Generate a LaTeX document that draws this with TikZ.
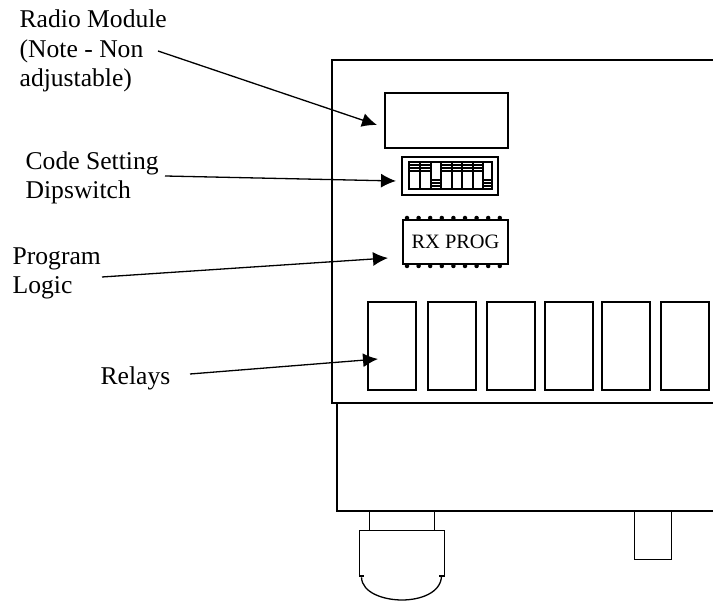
\documentclass[tikz,border=0pt]{standalone}
\usepackage{fontspec}
\setmainfont{Liberation Serif}
\usetikzlibrary{positioning,arrows.meta}

\begin{document}
\begin{tikzpicture}[
    x=1pt, y=-1pt,
    every path/.style={line width=1.3pt},
    lbl/.style={align=left, font=\fontsize{25.6}{29.6}\selectfont, inner sep=0pt},
    part/.style={rectangle, draw, fill=white, inner sep=0pt, minimum width=#1},
    relay/.style={part=48pt, minimum height=88pt},
    pointer/.style={-{Latex[length=15pt,width=14pt]}, line width=1.3pt},
    pin/.style={circle, fill=black, inner sep=0pt, minimum size=4.5pt},
    swhatch/.style={line width=1.1pt}
]
\useasboundingbox (0,0) rectangle (713,601);

% housing
\coordinate (housetl) at (332,60);
\coordinate (housetr) at (713,60);
\coordinate (housebl) at (332,403);
\coordinate (housebr) at (713,403);
\coordinate (basetl) at (337,403);
\coordinate (basebl) at (337,511);
\coordinate (basebr) at (713,511);
\draw (housetr) -- (housetl) -- (housebl) -- (housebr);
\draw (basetl) -- (basebl) -- (basebr);

% radio module and chips
\node[part=123pt, minimum height=55pt] (radio) at (446.5,120.5) {};
\node[part=96pt, minimum height=38pt] (dipsw) at (450,176) {};
\node[part=83pt, minimum height=27pt] (dipin) at (450.5,175.5) {};
\foreach \x in {420,431,441,452,462,473,483}
    \draw[swhatch] (\x,162) -- (\x,189);
\foreach \xa/\xb in {409/431,441/483} {
    \foreach \y in {165,168,171}
        \draw[swhatch] (\xa,\y) -- (\xb,\y);
}
\foreach \xa/\xb in {431/441,483/492} {
    \foreach \y in {180,183,186}
        \draw[swhatch] (\xa,\y) -- (\xb,\y);
}
\node[part=105pt, minimum height=44pt, font=\fontsize{20.4}{24}\selectfont] (rxprog) at (455.5,242) {RX PROG};
\foreach \x in {0,...,8} {
    \node[pin] (pint\x) at (407+11.6*\x,218) {};
    \node[pin] (pinb\x) at (407+11.6*\x,266) {};
}

% relays
\node[relay] (relay1) at (392,346) {};
\node[relay, right=10.7pt of relay1] (relay2) {};
\node[relay, right=9.7pt of relay2] (relay3) {};
\node[relay, right=8.7pt of relay3] (relay4) {};
\node[relay, right=7.7pt of relay4] (relay5) {};
\node[relay, right=9.7pt of relay5] (relay6) {};

% gland and foot
\node[part=65pt, minimum height=19pt, anchor=north west] (neck) at (368.5,511) {};
\node[part=85pt, minimum height=46pt, anchor=north west] (gland) at (359,530) {};
\fill[white] (360,575) rectangle (443,578);
\draw (359,576) -- (364,576) (439,576) -- (444,576);
\draw (gland.south west) ++(2.5,0) .. controls (362,593) and (384,600) .. (402,600)
    .. controls (420,600) and (441,593) .. (441.5,576);
\node[part=37pt, minimum height=48pt, anchor=north west] (foot) at (633.5,511) {};

% labels
\node[lbl, anchor=base west] (radiolbl) at (19,87) {Radio Module\\(Note - Non\\adjustable)};
\node[lbl, anchor=base west] (diplbl) at (25,199) {Code Setting\\Dipswitch};
\node[lbl, anchor=base west] (logiclbl) at (12,294) {Program\\Logic};
\node[lbl, anchor=base west] (relaylbl) at (100,385) {Relays};

% pointers
\coordinate (radiotip) at (377,125);
\coordinate (radiotail) at (158,51);
\coordinate (diptip) at (396,181);
\coordinate (diptail) at (165,176);
\coordinate (logictip) at (388,258);
\coordinate (logictail) at (102,277);
\coordinate (relaytip) at (378,359);
\coordinate (relaytail) at (190,374);
\draw[pointer] (radiotail) -- (radiotip);
\draw[pointer] (diptail) -- (diptip);
\draw[pointer] (logictail) -- (logictip);
\draw[pointer] (relaytail) -- (relaytip);
\end{tikzpicture}
\end{document}
